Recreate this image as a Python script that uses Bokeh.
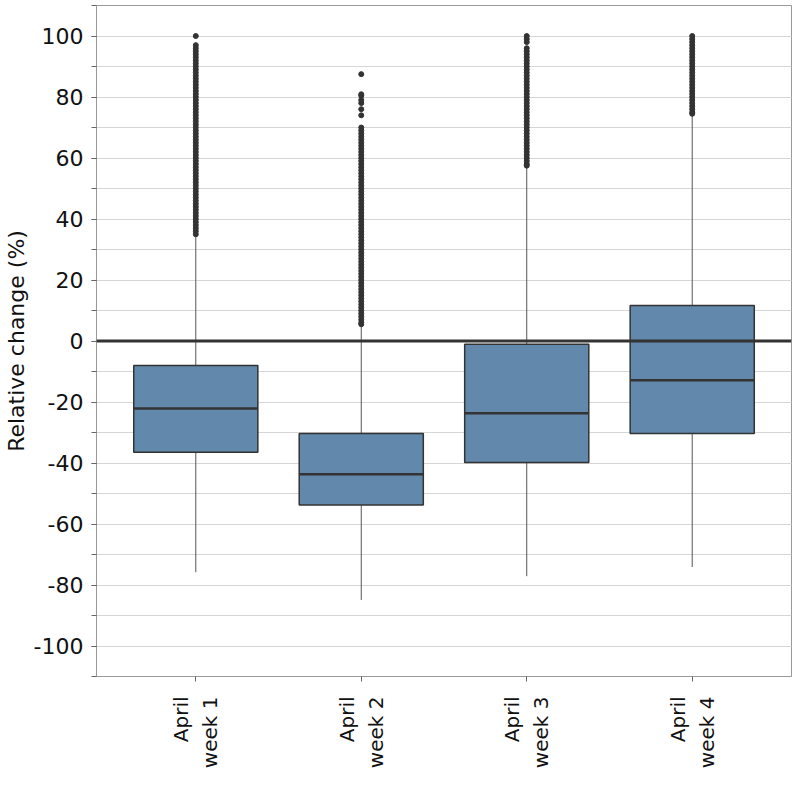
from bokeh.plotting import figure
from bokeh.models import Span, SingleIntervalTicker, FixedTicker, Range1d
from bokeh.embed import file_html
from bokeh.resources import INLINE

categories = ["April\nweek 1", "April\nweek 2", "April\nweek 3", "April\nweek 4"]
q1 = [-36.5, -53.8, -39.8, -30.3]
median = [-22.1, -43.7, -23.7, -12.9]
q3 = [-8.0, -30.3, -1.1, 11.6]
lower = [-75.8, -84.9, -77.1, -74.1]
upper = [35.0, 5.4, 57.1, 74.1]

outliers_w1 = [35, 36, 37, 38, 39, 40, 41, 42, 43, 44, 45, 46, 47, 48, 49, 50,
               51, 52, 53, 54, 55, 56, 57, 58, 59, 60, 61, 62, 63, 64, 65, 66,
               67, 68, 69, 70, 71, 72, 73, 74, 75, 76, 77, 78, 79, 80, 81, 82,
               83, 84, 85, 86, 87, 88, 89, 90, 91, 92, 93, 94, 95, 96, 97, 100]
outliers_w2 = [5.5, 6, 7, 8, 9, 10, 11, 12, 13, 14, 15, 16, 17, 18, 19, 20, 21,
               22, 23, 24, 25, 26, 27, 28, 29, 30, 31, 32, 33, 34, 35, 36, 37,
               38, 39, 40, 41, 42, 43, 44, 45, 46, 47, 48, 49, 50, 51, 52, 53,
               54, 55, 56, 57, 58, 59, 60, 61, 62, 63, 64, 65, 66, 67, 68, 69,
               70, 74, 76, 78, 79, 80.4, 80.9, 87.5]
outliers_w3 = [57.5, 58, 59, 60, 61, 62, 63, 64, 65, 66, 67, 68, 69, 70, 71, 72,
               73, 74, 75, 76, 77, 78, 79, 80, 81, 82, 83, 84, 85, 86, 87, 88,
               89, 90, 91, 92, 93, 94, 95, 96, 98, 99, 100]
outliers_w4 = [74.5, 75, 76, 77, 78, 79, 80, 81, 82, 83, 84, 85, 86, 87, 88, 89,
               90, 91, 92, 93, 94, 95, 96, 97, 98, 99, 100]
outliers = [outliers_w1, outliers_w2, outliers_w3, outliers_w4]

y_ticks = [-100, -80, -60, -40, -20, 0, 20, 40, 60, 80, 100]
y_tick_labels = ["-100", "-80", "-60", "-40", "-20", "0", "20", "40", "60", "80", "100"]
y_label = "Relative change (%)"

FONT = "DejaVu Sans"
xs = list(range(len(categories)))
box_w = 0.75

p = figure(width=792, height=790, output_backend="svg", toolbar_location=None,
           x_range=Range1d(-0.6, 3.6), y_range=Range1d(-110, 110),
           min_border_left=92, min_border_right=1, min_border_top=5,
           min_border_bottom=114)
p.background_fill_color = "white"
p.border_fill_color = "white"
p.outline_line_color = "#999999"
p.outline_line_width = 1

# grid
p.xgrid.grid_line_color = None
p.ygrid.grid_line_color = "#d6d6d6"
p.ygrid.minor_grid_line_color = "#d6d6d6"

# whiskers
p.segment(x0=xs, y0=q3, x1=xs, y1=upper, line_color="#555555", line_width=1)
p.segment(x0=xs, y0=q1, x1=xs, y1=lower, line_color="#555555", line_width=1)

# zero line
p.add_layout(Span(location=0, dimension="width", line_color="#333333", line_width=3))

# boxes
p.vbar(x=xs, width=box_w, bottom=q1, top=q3, fill_color="#6288ac",
       line_color="#333333", line_width=1.5)
# medians
p.segment(x0=[x - box_w / 2 for x in xs], y0=median, x1=[x + box_w / 2 for x in xs],
          y1=median, line_color="#333333", line_width=2.5)

# outliers
ox, oy = [], []
for i, vals in enumerate(outliers):
    ox += [xs[i]] * len(vals)
    oy += vals
p.scatter(ox, oy, size=5, fill_color="#333333", line_color="#333333")

# axes
p.yaxis.ticker = SingleIntervalTicker(interval=20, num_minor_ticks=2)
p.yaxis.major_label_overrides = {t: s for t, s in zip(y_ticks, y_tick_labels)}
p.yaxis.axis_label = y_label
p.yaxis.axis_label_text_font = FONT
p.yaxis.axis_label_text_font_size = "22px"
p.yaxis.axis_label_text_font_style = "normal"
p.yaxis.axis_label_text_color = "#111111"
p.yaxis.axis_label_standoff = 2
p.xaxis.ticker = FixedTicker(ticks=xs)
p.xaxis.major_label_overrides = {x: c for x, c in zip(xs, categories)}
p.xaxis.major_label_orientation = 3.14159265 / 2
for ax in (p.xaxis, p.yaxis):
    ax.axis_line_color = "#999999"
    ax.major_tick_line_color = "#666666"
    ax.minor_tick_line_color = "#666666"
    ax.major_tick_out = 5
    ax.major_tick_in = 0
    ax.minor_tick_out = 5
    ax.minor_tick_in = 0
    ax.major_label_text_font = FONT
    ax.major_label_text_color = "#111111"
p.yaxis.major_label_text_font_size = "22px"
p.yaxis.major_label_standoff = 8
p.xaxis.major_label_text_font_size = "20px"
p.xaxis.major_label_standoff = 15
p.xaxis.minor_tick_line_color = None

open("out.html", "w").write(file_html(p, INLINE))
